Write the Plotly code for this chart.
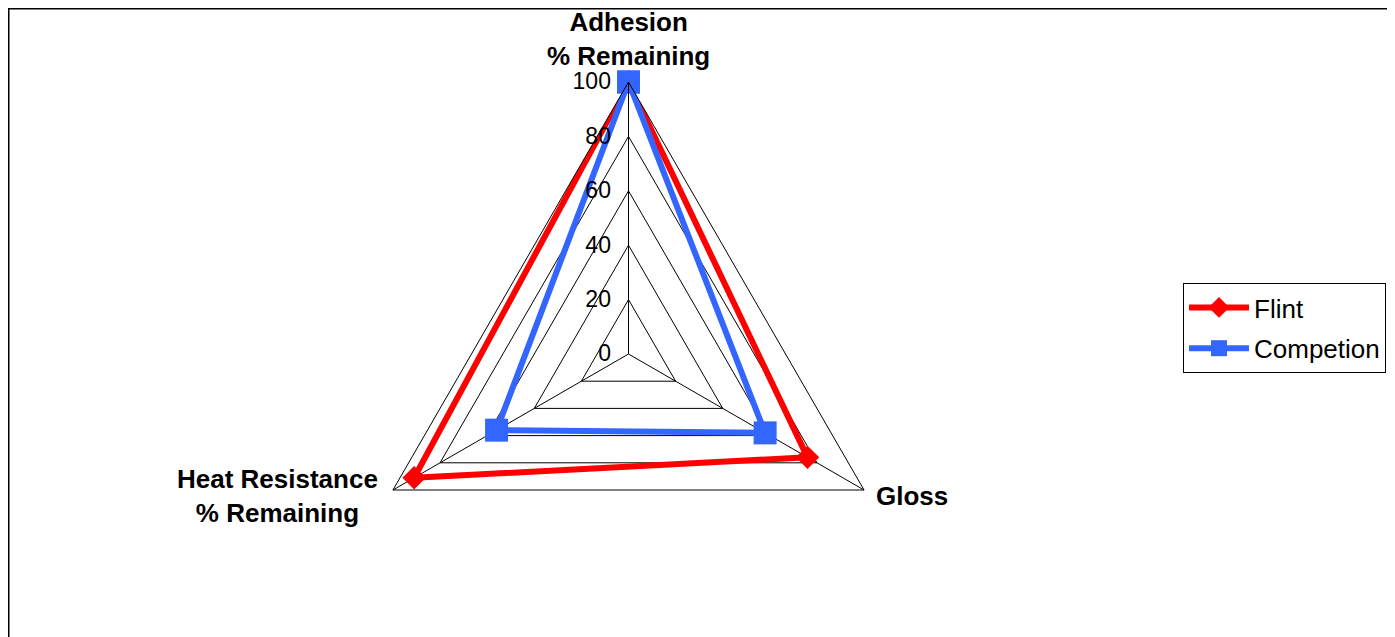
import plotly.graph_objects as go

categories = ["Adhesion", "Gloss", "Heat Resistance"]
flint = [100, 76, 91]
competion = [100, 58, 56]
series_names = ["Flint", "Competion"]
tick_vals = [0, 20, 40, 60, 80, 100]

W, H = 1395, 637
cx, cy, R = 620.5, 346, 272

def closed(v):
    return v + v[:1]

fig = go.Figure()
fig.add_trace(go.Scatterpolar(
    r=closed(flint), theta=closed(categories), name=series_names[0],
    mode="lines+markers", legendgroup="a",
    line=dict(color="#ff0000", width=6),
    marker=dict(symbol="diamond", size=18, color="#ff0000", line=dict(width=0)),
))
fig.add_trace(go.Scatterpolar(
    r=closed(competion), theta=closed(categories), name=series_names[1],
    mode="lines+markers", legendgroup="b",
    line=dict(color="#3366ff", width=6),
    marker=dict(symbol="square", size=23, color="#3366ff", line=dict(width=0)),
))

fig.update_layout(
    width=W, height=H,
    margin=dict(l=0, r=0, t=0, b=0),
    paper_bgcolor="white",
    font=dict(family="Liberation Sans, Arial", color="black"),
    polar=dict(
        domain=dict(x=[(cx - R) / W, (cx + R) / W], y=[1 - (cy + R) / H, 1 - (cy - R) / H]),
        gridshape="linear",
        bgcolor="white",
        radialaxis=dict(
            range=[0, 100], tickvals=tick_vals, angle=90, side="counterclockwise",
            showline=True, linecolor="black", linewidth=1,
            gridcolor="black", gridwidth=1,
            ticks="outside", ticklen=9, tickcolor="rgba(0,0,0,0)",
            tickfont=dict(size=23, color="black"), tickangle=90,
        ),
        angularaxis=dict(
            categoryarray=categories, rotation=90, direction="clockwise",
            showline=True, linecolor="black", linewidth=1,
            gridcolor="black", gridwidth=1, ticks="", showticklabels=False,
        ),
    ),
    legend=dict(
        x=1175 / W, y=1 - 275 / H, xanchor="left", yanchor="top",
        bordercolor="black", borderwidth=1, bgcolor="white",
        font=dict(size=26, color="black"),
        tracegroupgap=4, itemwidth=60,
    ),
    showlegend=True,
)

lab_font = dict(size=26, color="black", family="Liberation Sans, Arial")
fig.add_annotation(text="<b>Adhesion</b><br><b>% Remaining</b>", xref="paper", yref="paper",
                   x=cx / W, y=1 - 31 / H, xanchor="center", yanchor="middle",
                   showarrow=False, align="center", font=lab_font)
fig.add_annotation(text="<b>Heat Resistance</b><br><b>% Remaining</b>", xref="paper", yref="paper",
                   x=372 / W, y=1 - 487.5 / H, xanchor="right", yanchor="middle",
                   showarrow=False, align="center", font=lab_font)
fig.add_annotation(text="<b>Gloss</b>", xref="paper", yref="paper",
                   x=866 / W, y=1 - 488 / H, xanchor="left", yanchor="middle",
                   showarrow=False, align="center", font=lab_font)

# chart frame
fig.add_shape(type="rect", xref="paper", yref="paper",
              x0=0.5 / W, x1=1385 / W, y0=-0.1, y1=1 - 0.5 / H,
              line=dict(color="black", width=2))

fig.write_html("out.html")
